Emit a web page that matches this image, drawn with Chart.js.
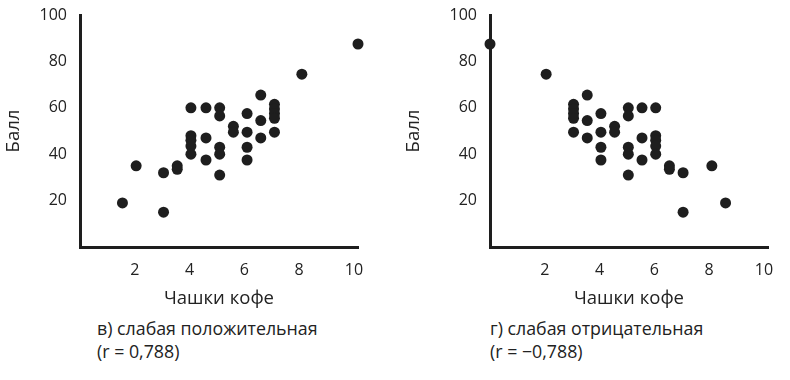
<!DOCTYPE html>
<html lang="ru">
<head>
  <meta charset="UTF-8" />
  <title>Слабая корреляция</title>
  <script src="https://cdn.jsdelivr.net/npm/chart.js"></script>
  <style>
    body { margin: 0; background: #fff; width: 790px; height: 380px; position: relative; overflow: hidden; font-family: "Open Sans", sans-serif; color: #222; }
    .box { position: absolute; top: 0; width: 390px; height: 312px; }
    .caption { position: absolute; font-size: 17.8px; line-height: 23px; color: #222; }
  </style>
</head>
<body>
  <div class="box" style="left:0"><canvas id="pos-chart"></canvas></div>
  <div class="box" style="left:400px"><canvas id="neg-chart"></canvas></div>
  <div class="caption" style="left:97px; top:317px">в) слабая положительная<br>(r = 0,788)</div>
  <div class="caption" style="left:490px; top:317px">г) слабая отрицательная<br>(r = −0,788)</div>

  <script>
// tick labels
const xTicks = [2, 4, 6, 8, 10];
const yTicks = [20, 40, 60, 80, 100];

// в) weak positive
const posX = [1.55, 2.05, 3.05, 3.05, 3.55, 3.55, 4.05, 4.05, 4.05, 4.05, 4.05, 4.6, 4.6, 4.6,
  5.1, 5.1, 5.1, 5.1, 5.1, 5.6, 5.6, 6.1, 6.1, 6.1, 6.1, 6.6, 6.6, 6.6,
  7.1, 7.1, 7.1, 7.1, 7.1, 8.1, 10.15];
const posY = [19, 35, 32, 15, 35, 33.5, 60, 48, 46, 43.5, 40, 60, 47, 37.5,
  60, 56.5, 43, 40, 31, 52, 49.5, 57.5, 49.5, 43, 37.5, 65.5, 54.5, 47,
  61.5, 59.5, 57.5, 55.5, 49.5, 74.5, 87.5];

// г) weak negative
const negX = [0, 2.05, 3.05, 3.05, 3.05, 3.05, 3.05, 3.55, 3.55, 3.55, 4.05, 4.05, 4.05, 4.05,
  4.55, 4.55, 5.05, 5.05, 5.05, 5.05, 5.05, 5.55, 5.55, 5.55, 6.05, 6.05, 6.05, 6.05, 6.05,
  6.55, 6.55, 7.05, 7.05, 8.1, 8.6];
const negY = [87.5, 74.5, 61.5, 59.5, 57.5, 55.5, 49.5, 65.5, 54.5, 47, 57.5, 49.5, 43, 37.5,
  52, 49.5, 60, 56.5, 43, 40, 31, 60, 47, 37.5, 60, 48, 46, 43.5, 40,
  35, 33.5, 32, 15, 35, 19];

const ink = '#1e1e1e';
const font = { family: '"Open Sans", sans-serif', size: 16 };
const titleFont = { family: '"Open Sans", sans-serif', size: 18.5 };

const makeChart = (id, xs, ys, yAxisWidth, rightPad) => {
  const points = xs.map((x, i) => ({ x: x, y: ys[i] }));
  return new Chart(document.getElementById(id), {
    type: 'scatter',
    data: {
      datasets: [{
        data: points,
        backgroundColor: ink,
        borderWidth: 0,
        pointRadius: 5.5,
        pointHoverRadius: 5.5,
        clip: false
      }]
    },
    options: {
      responsive: true,
      maintainAspectRatio: false,
      animation: false,
      layout: { padding: { top: 15, right: rightPad, left: 0, bottom: 0 } },
      plugins: { legend: { display: false }, tooltip: { enabled: false } },
      scales: {
        x: {
          type: 'linear', min: 0, max: 10.15,
          afterBuildTicks: axis => { axis.ticks = xTicks.map(v => ({ value: v })); },
          afterFit: axis => { axis.height = 65; },
          grid: { display: false },
          border: { color: ink, width: 3 },
          ticks: { color: '#222', font: font, padding: 6, maxRotation: 0 },
          title: { display: true, text: 'Чашки кофе', color: '#222', font: titleFont, padding: { top: 0, bottom: 2 } }
        },
        y: {
          type: 'linear', min: 0, max: 100,
          afterBuildTicks: axis => { axis.ticks = yTicks.map(v => ({ value: v })); },
          afterFit: axis => { axis.width = yAxisWidth; },
          grid: { display: false },
          border: { color: ink, width: 3 },
          ticks: { color: '#222', font: font, padding: 5 },
          title: { display: true, text: 'Балл', color: '#222', font: titleFont, padding: 3 }
        }
      }
    }
  });
};

makeChart('pos-chart', posX, posY, 80, 32);
makeChart('neg-chart', negX, negY, 90, 22);
  </script>
</body>
</html>
